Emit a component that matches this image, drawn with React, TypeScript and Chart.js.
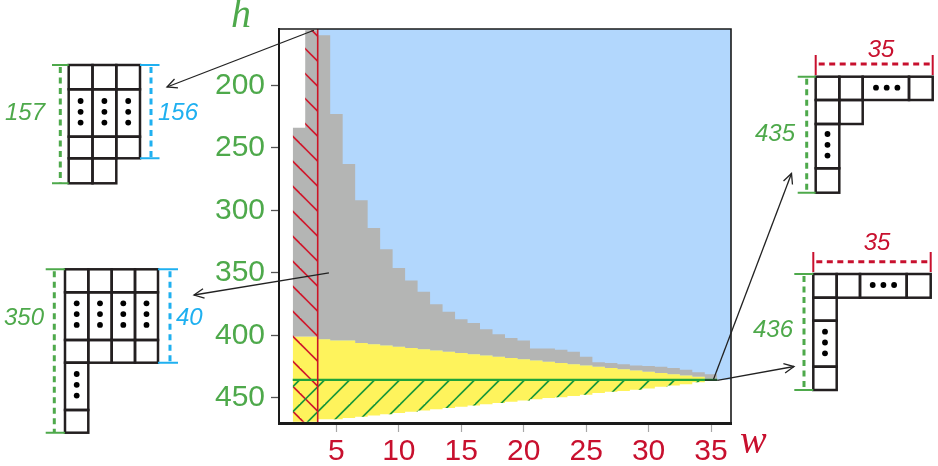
import React, { useEffect, useRef } from 'react';
import { Chart, registerables } from 'chart.js';

Chart.register(...registerables);

// ---------------- data ----------------
const widths = [2, 3, 4, 5, 6, 7, 8, 9, 10, 11, 12, 13, 14, 15, 16, 17, 18, 19, 20, 21, 22, 23, 24, 25, 26, 27, 28, 29, 30, 31, 32, 33, 34, 35];
const grayTops = [234, 156, 160, 223, 263, 292, 314, 331, 346, 356, 365, 375, 381, 387, 390, 395, 399, 402, 404, 410.5, 410.5, 411.5, 413, 417, 421.5, 422, 423, 424, 424.5, 425, 426, 427.5, 429.5, 431];
const yellowTops = [401, 401, 403, 404, 404, 406, 407, 408, 409, 410, 411, 412, 413, 414, 415, 416, 417, 418, 419, 420, 421, 422, 423, 424, 425, 426, 427, 428, 429, 430, 431, 432, 433, 435];
const yellowBottoms = [469, 469, 467, 467, 466, 465, 464, 463, 462, 461, 460, 459, 458, 457, 456, 455, 454, 453, 452, 451, 450, 449.5, 448.5, 447.5, 446, 445, 444.5, 443.5, 442.5, 441, 440, 439, 437.5, 436.5];
const redHatchedWidths = [2, 3];
const redBoundaryW = 3.5;
const greenLevelH = 435.5;
const markerW = 35;
const markerTopH = 435;
const markerBottomH = 436.5;
const xTicks = [5, 10, 15, 20, 25, 30, 35];
const yTicks = [200, 250, 300, 350, 400, 450];
const xMin = 0.4;
const xMax = 36.6;
const yMin = 155;
const yMax = 470;
// arrow anchors (data coordinates) -> inset index
const arrowW = [3.2, 4.4, 35.2, 35.5];
const arrowH = [156, 350, 435, 436];

// ---------------- style ----------------
const GREEN_TXT = '#4ea94b';
const RED_TXT = '#c8102e';
const BLUE_TXT = '#1fb0f0';
const BLUE_FILL = '#b2d7fd';
const GRAY_FILL = '#b4b5b4';
const YELLOW_FILL = '#fef35c';
const GREEN_LINE = '#1fa33a';
const RED_LINE = '#cc1526';
const INK = '#231f20';

// inset layout (pixel positions of annotation drawings)
type Rect = [number, number, number, number];
function row(xs: number[], y0: number, y1: number): Rect[] {
  const out: Rect[] = [];
  for (let i = 0; i < xs.length - 1; i++) out.push([xs[i], y0, xs[i + 1], y1]);
  return out;
}
const insets = [
  {
    cells: [
      ...row([68.7, 92.5, 116.3, 140], 65, 89.3),
      ...row([68.7, 92.5, 116.3, 140], 89.3, 136.7),
      ...row([68.7, 92.5, 116.3, 140], 136.7, 158.3),
      ...row([68.7, 92.5, 116.3], 158.3, 183.3),
    ],
    vdots: [[80.6, 101], [104.4, 101], [128.2, 101]],
    hdots: [] as number[][],
    vdims: [
      { x: 60.3, y0: 65, y1: 183.3, c0: 52, c1: 68.7, color: GREEN_TXT },
      { x: 151, y0: 65, y1: 158.3, c0: 140, c1: 159.5, color: BLUE_TXT },
    ],
    hdims: [] as any[],
    labels: [
      { t: '157', x: 45, y: 113, align: 'right', color: GREEN_TXT },
      { t: '156', x: 158, y: 113, align: 'left', color: BLUE_TXT },
    ],
    tip: [167, 87],
  },
  {
    cells: [
      ...row([65, 88.3, 111.7, 135, 158], 269.3, 292.3),
      ...row([65, 88.3, 111.7, 135, 158], 292.3, 340),
      ...row([65, 88.3, 111.7, 135, 158], 340, 362.7),
      ...row([65, 88.3], 362.7, 410),
      ...row([65, 88.3], 410, 432.7),
    ],
    vdots: [[76.7, 303.3], [100, 303.3], [123.3, 303.3], [146.5, 303.3], [76.7, 374]],
    hdots: [] as number[][],
    vdims: [
      { x: 54.3, y0: 269.3, y1: 432.7, c0: 45.7, c1: 65, color: GREEN_TXT },
      { x: 170, y0: 269.3, y1: 362.7, c0: 158, c1: 178, color: BLUE_TXT },
    ],
    hdims: [] as any[],
    labels: [
      { t: '350', x: 44, y: 318, align: 'right', color: GREEN_TXT },
      { t: '40', x: 176, y: 318, align: 'left', color: BLUE_TXT },
    ],
    tip: [194, 295],
  },
  {
    cells: [
      ...row([815.7, 839.3, 862.7, 909, 932.7], 76.7, 100),
      ...row([815.7, 839.3, 862.7], 100, 124),
      ...row([815.7, 839.3], 124, 168.3),
      ...row([815.7, 839.3], 168.3, 192.7),
    ],
    vdots: [[827.5, 134]],
    hdots: [[876, 87.7]],
    vdims: [{ x: 806.7, y0: 76.7, y1: 192.7, c0: 797.7, c1: 815.7, color: GREEN_TXT }],
    hdims: [{ y: 64, x0: 815.7, x1: 932.7, c0: 55, c1: 75, color: RED_TXT }],
    labels: [
      { t: '35', x: 881, y: 50, align: 'center', color: RED_TXT },
      { t: '435', x: 795, y: 134, align: 'right', color: GREEN_TXT },
    ],
    tip: [791.5, 173.5],
  },
  {
    cells: [
      ...row([813.3, 836.7, 860, 906.7, 930.7], 274, 297.7),
      ...row([813.3, 836.7], 297.7, 320.7),
      ...row([813.3, 836.7], 320.7, 366.7),
      ...row([813.3, 836.7], 366.7, 390),
    ],
    vdots: [[825, 331.7]],
    hdots: [[872.7, 285]],
    vdims: [{ x: 804, y0: 274, y1: 390, c0: 794.3, c1: 813.3, color: GREEN_TXT }],
    hdims: [{ y: 261.7, x0: 813.3, x1: 930.7, c0: 252, c1: 272, color: RED_TXT }],
    labels: [
      { t: '35', x: 877, y: 243, align: 'center', color: RED_TXT },
      { t: '436', x: 793, y: 330, align: 'right', color: GREEN_TXT },
    ],
    tip: [794, 366.5],
  },
];

function stepPoints(ws: number[], vs: number[]) {
  const pts = ws.map((w, i) => ({ x: w - 0.5, y: vs[i] }));
  pts.push({ x: ws[ws.length - 1] + 0.5, y: vs[vs.length - 1] });
  return pts;
}

function makeHatch(ctx: CanvasRenderingContext2D, color: string, dir: 1 | -1, offset: number) {
  const s = 25;
  const c = document.createElement('canvas');
  c.width = s;
  c.height = s;
  const g = c.getContext('2d')!;
  g.strokeStyle = color;
  g.lineWidth = 1.6;
  for (let k = -3; k <= 3; k++) {
    const x0 = offset + k * s;
    g.beginPath();
    if (dir === 1) {
      g.moveTo(x0 - s, -s);
      g.lineTo(x0 + 2 * s, 2 * s);
    } else {
      g.moveTo(x0 + s, -s);
      g.lineTo(x0 - 2 * s, 2 * s);
    }
    g.stroke();
  }
  return ctx.createPattern(c, 'repeat')!;
}

function arrowHead(ctx: CanvasRenderingContext2D, fx: number, fy: number, tx: number, ty: number) {
  const ang = Math.atan2(ty - fy, tx - fx);
  const L = 11;
  const spread = 0.45;
  ctx.beginPath();
  ctx.moveTo(tx - L * Math.cos(ang - spread), ty - L * Math.sin(ang - spread));
  ctx.lineTo(tx, ty);
  ctx.lineTo(tx - L * Math.cos(ang + spread), ty - L * Math.sin(ang + spread));
  ctx.stroke();
}

const decorPlugin = {
  id: 'decor',
  afterDraw(chart: any) {
    const { ctx, chartArea: a, scales } = chart;
    const xs = scales.x;
    const ys = scales.y;
    ctx.save();
    // frame
    ctx.strokeStyle = '#1a1a1a';
    ctx.lineWidth = 1.6;
    ctx.beginPath();
    ctx.moveTo(a.left, a.top);
    ctx.lineTo(a.right, a.top);
    ctx.lineTo(a.right, a.bottom);
    ctx.stroke();
    ctx.lineWidth = 2;
    ctx.beginPath();
    ctx.moveTo(a.left, a.top - 1);
    ctx.lineTo(a.left, a.bottom);
    ctx.stroke();
    ctx.lineWidth = 3;
    ctx.beginPath();
    ctx.moveTo(a.left - 1, a.bottom + 0.5);
    ctx.lineTo(a.right + 1, a.bottom + 0.5);
    ctx.stroke();

    // axis titles
    ctx.font = 'italic 40px "Liberation Serif"';
    ctx.textBaseline = 'alphabetic';
    ctx.textAlign = 'center';
    ctx.fillStyle = GREEN_TXT;
    ctx.fillText('h', a.left - 38, a.top - 2);
    ctx.fillStyle = RED_TXT;
    ctx.textAlign = 'left';
    ctx.fillText('w', a.right + 9, a.bottom + 30);

    // insets
    insets.forEach((ins, i) => {
      ctx.strokeStyle = INK;
      ctx.lineWidth = 2.5;
      ctx.setLineDash([]);
      ins.cells.forEach(([x0, y0, x1, y1]) => ctx.strokeRect(x0, y0, x1 - x0, y1 - y0));
      ctx.fillStyle = '#000';
      ins.vdots.forEach(([x, y]) => {
        for (let k = 0; k < 3; k++) {
          ctx.beginPath();
          ctx.arc(x, y + k * 10.8, 2.9, 0, Math.PI * 2);
          ctx.fill();
        }
      });
      ins.hdots.forEach(([x, y]) => {
        for (let k = 0; k < 3; k++) {
          ctx.beginPath();
          ctx.arc(x + k * 10.7, y, 2.9, 0, Math.PI * 2);
          ctx.fill();
        }
      });
      ins.vdims.forEach((d: any) => {
        ctx.strokeStyle = d.color;
        ctx.lineWidth = 2;
        ctx.setLineDash([]);
        ctx.beginPath();
        ctx.moveTo(d.c0, d.y0);
        ctx.lineTo(d.c1, d.y0);
        ctx.moveTo(d.c0, d.y1);
        ctx.lineTo(d.c1, d.y1);
        ctx.stroke();
        ctx.lineWidth = 3;
        ctx.setLineDash([6, 4.5]);
        ctx.beginPath();
        ctx.moveTo(d.x, d.y0 + 2);
        ctx.lineTo(d.x, d.y1);
        ctx.stroke();
      });
      ins.hdims.forEach((d: any) => {
        ctx.strokeStyle = d.color;
        ctx.lineWidth = 2;
        ctx.setLineDash([]);
        ctx.beginPath();
        ctx.moveTo(d.x0, d.c0);
        ctx.lineTo(d.x0, d.c1);
        ctx.moveTo(d.x1, d.c0);
        ctx.lineTo(d.x1, d.c1);
        ctx.stroke();
        ctx.lineWidth = 3;
        ctx.setLineDash([6, 4.5]);
        ctx.beginPath();
        ctx.moveTo(d.x0 + 3, d.y);
        ctx.lineTo(d.x1, d.y);
        ctx.stroke();
      });
      ctx.setLineDash([]);
      ctx.font = 'italic 24px "Liberation Sans"';
      ctx.textBaseline = 'middle';
      ins.labels.forEach((l: any) => {
        ctx.fillStyle = l.color;
        ctx.textAlign = l.align;
        ctx.fillText(l.t, l.x, l.y);
      });
      // arrow from data point to inset
      const fx = xs.getPixelForValue(arrowW[i]);
      const fy = ys.getPixelForValue(arrowH[i]);
      const [tx, ty] = ins.tip;
      ctx.strokeStyle = '#222';
      ctx.lineWidth = 1.3;
      ctx.beginPath();
      ctx.moveTo(fx, fy);
      ctx.lineTo(tx, ty);
      ctx.stroke();
      arrowHead(ctx, fx, fy, tx, ty);
    });
    ctx.restore();
  },
};

export default function App() {
  const ref = useRef<HTMLCanvasElement>(null);
  useEffect(() => {
    const canvas = ref.current!;
    const ctx = canvas.getContext('2d')!;
    const redPattern = makeHatch(ctx, '#d0182c', 1, 6.5);
    const greenPattern = makeHatch(ctx, '#17973a', -1, 4.5);

    const hatchIdx = redHatchedWidths.map((w) => widths.indexOf(w));
    const lastW = widths[widths.length - 1];
    const firstW = widths[0];

    const base = { borderWidth: 0, borderColor: 'transparent', pointRadius: 0, tension: 0 };
    const chart = new Chart(canvas, {
      type: 'line',
      data: {
        datasets: [
          // 0 blue region
          { ...base, data: [{ x: redBoundaryW, y: greenLevelH }, { x: xMax, y: greenLevelH }], fill: { value: yMin }, backgroundColor: BLUE_FILL, order: 20 },
          // 1 gray
          { ...base, data: stepPoints(widths, grayTops), stepped: 'before', fill: 2, backgroundColor: GRAY_FILL, order: 19 },
          // 2 yellow
          { ...base, data: stepPoints(widths, yellowTops), stepped: 'before', fill: 3, backgroundColor: YELLOW_FILL, order: 18 },
          // 3 yellow bottom
          { ...base, data: stepPoints(widths, yellowBottoms), stepped: 'before', fill: false, order: 17 },
          // 4 red hatch
          { ...base, data: stepPoints(redHatchedWidths, hatchIdx.map((i) => grayTops[i])), stepped: 'before', fill: 5, backgroundColor: redPattern, order: 16 },
          // 5 red hatch bottom
          { ...base, data: stepPoints(redHatchedWidths, hatchIdx.map((i) => yellowBottoms[i])), stepped: 'before', fill: false, order: 15 },
          // 6 green line + green hatch
          { ...base, data: [{ x: firstW - 0.5, y: greenLevelH }, { x: lastW + 0.5, y: greenLevelH }], fill: 3, backgroundColor: greenPattern, borderColor: GREEN_LINE, borderWidth: 2.4, order: 14 },
          // 7 red boundary
          { ...base, data: [{ x: redBoundaryW, y: yMin }, { x: redBoundaryW, y: yMax }], fill: false, borderColor: RED_LINE, borderWidth: 1.6, order: 13 },
          // 8 marker
          { ...base, data: [{ x: markerW - 0.5, y: markerTopH }, { x: markerW + 0.5, y: markerTopH }], fill: { value: markerBottomH }, backgroundColor: '#22432a', order: 12 },
        ] as any,
      },
      options: {
        responsive: false,
        animation: false,
        events: [],
        layout: { padding: { left: 0, top: 29, right: 207, bottom: 0 } },
        plugins: { legend: { display: false }, tooltip: { enabled: false } },
        scales: {
          x: {
            type: 'linear',
            min: xMin,
            max: xMax,
            afterBuildTicks: (s: any) => {
              s.ticks = xTicks.map((v) => ({ value: v }));
            },
            afterFit: (s: any) => {
              s.height = 43;
            },
            border: { display: false },
            grid: { drawOnChartArea: false, drawTicks: true, tickLength: 9, tickColor: '#a8a8a8', tickWidth: 1.2 },
            ticks: { color: RED_TXT, font: { size: 30, family: '"Liberation Sans", Arial, sans-serif' }, padding: 2, maxRotation: 0 },
          },
          y: {
            type: 'linear',
            reverse: true,
            min: yMin,
            max: yMax,
            afterBuildTicks: (s: any) => {
              s.ticks = yTicks.map((v) => ({ value: v }));
            },
            afterFit: (s: any) => {
              s.width = 279;
            },
            border: { display: false },
            grid: { drawOnChartArea: false, drawTicks: true, tickLength: 8, tickColor: '#555', tickWidth: 1.3 },
            ticks: { color: GREEN_TXT, font: { size: 30, family: '"Liberation Sans", Arial, sans-serif' }, padding: 6 },
          },
        },
      } as any,
      plugins: [decorPlugin],
    });
    return () => chart.destroy();
  }, []);
  return (
    <div style={{ position: 'fixed', left: 0, top: 0, width: 938, height: 466, background: '#fff' }}>
      <canvas ref={ref} width={938} height={466} style={{ display: 'block', width: 938, height: 466 }} />
    </div>
  );
}
